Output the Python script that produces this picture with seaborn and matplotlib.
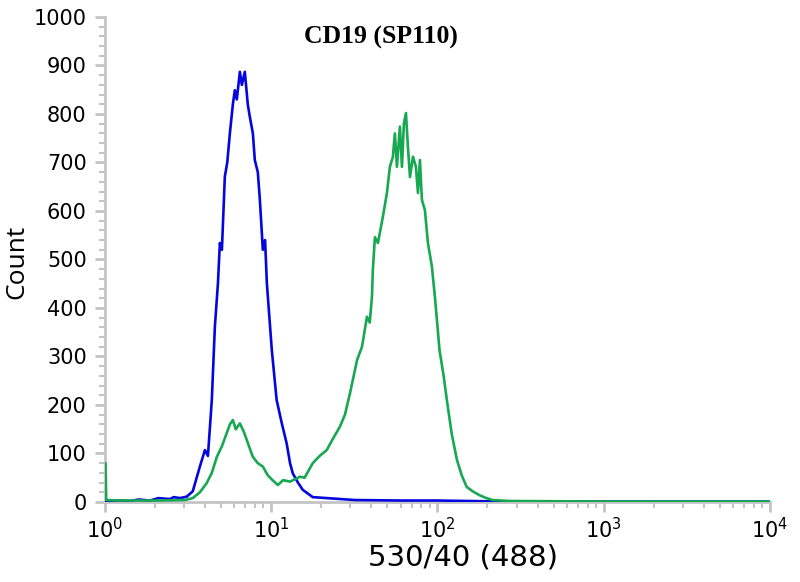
import numpy as np
import pandas as pd
import matplotlib
matplotlib.use('Agg')
import matplotlib.pyplot as plt
from matplotlib.ticker import FixedLocator, LogLocator, NullFormatter
import seaborn as sns

# histogram traces (fluorescence channel, count)
blue_x = [1.0, 1.2, 1.41, 1.6, 1.87, 2.1, 2.46, 2.6, 2.83, 3.11, 3.38, 3.73, 4.00, 4.17, 4.40,
          4.59, 4.79, 4.92, 5.06, 5.27, 5.45, 5.65, 5.89, 6.05, 6.22, 6.49, 6.67, 6.95, 7.24,
          7.45, 7.77, 7.98, 8.32, 8.56, 8.92, 9.2, 9.43, 10.1, 10.8, 11.6, 12.4, 13.0, 13.5,
          14.5, 15.5, 17.8, 21.6, 31.9, 59.5, 100, 238, 10000]
blue_y = [0, 3, 2, 5, 3, 8, 6, 10, 8, 11, 22, 73, 107, 95, 210,
          361, 451, 534, 520, 671, 700, 760, 820, 849, 830, 887, 860, 887, 820,
          794, 760, 705, 680, 623, 520, 540, 451, 313, 210, 162, 121, 80, 59,
          40, 25, 10, 8, 4, 3, 3, 1, 1]

green_x = [1.01, 1.02, 1.23, 2.14, 3.03, 3.38, 3.73, 4.10, 4.40, 4.72, 5.06, 5.41, 5.65, 5.89,
           6.13, 6.49, 6.85, 7.14, 7.45, 7.77, 8.32, 8.92, 9.55, 10.2, 10.98, 11.8, 13.0, 14.9,
           15.9, 17.8, 19.6, 21.6, 23.5, 25.9, 27.8, 29.8, 32.9, 35.2, 37.7, 39.2, 40.4, 40.9,
           42.1, 43.9, 47.0, 49.7, 51.8, 54.0, 55.5, 57.1, 59.5, 61.2, 62.9, 64.7, 66.5, 68.4,
           71.3, 74.3, 76.4, 78.5, 80.7, 84.1, 87.7, 92.7, 96.6, 103, 109, 114, 122, 131,
           140, 150, 163, 179, 197, 215, 273, 944, 10000]
green_y = [80, 4, 3, 3, 4, 8, 20, 39, 60, 93, 115, 142, 160, 169,
           150, 162, 145, 128, 110, 93, 80, 73, 55, 45, 35, 45, 42, 52,
           50, 80, 95, 107, 130, 155, 180, 224, 293, 320, 382, 370, 423, 478,
           546, 534, 588, 637, 691, 712, 760, 691, 774, 691, 781, 802, 732, 670,
           712, 691, 637, 705, 623, 602, 534, 485, 423, 313, 260, 210, 140, 87,
           55, 31, 22, 14, 8, 4, 2, 1, 1]

y_ticks = [0, 100, 200, 300, 400, 500, 600, 700, 800, 900, 1000]
x_ticks = [1, 10, 100, 1000, 10000]
x_tick_labels = ['10$^{0}$', '10$^{1}$', '10$^{2}$', '10$^{3}$', '10$^{4}$']

sns.set_style('white')
plt.rcParams['font.family'] = ['DejaVu Sans']
plt.rcParams['mathtext.default'] = 'regular'

fig = plt.figure(figsize=(8, 5.82), dpi=100)
ax = fig.add_axes([0.131, 0.1375, 0.8315, 0.8333])

sns.lineplot(x=blue_x, y=blue_y, color='#0505e0', linewidth=1.9, ax=ax, estimator=None,
             sort=False, zorder=3)
sns.lineplot(x=green_x, y=green_y, color='#17a852', linewidth=1.9, ax=ax, estimator=None,
             sort=False, zorder=4)

ax.set_xscale('log')
ax.set_xlim(1, 10000)
ax.set_ylim(0, 1000)

grey = '#c4c4c4'
for side in ['top', 'right']:
    ax.spines[side].set_visible(False)
for side in ['left', 'bottom']:
    ax.spines[side].set_color(grey)
    ax.spines[side].set_linewidth(2)

ax.set_yticks(y_ticks)
ax.yaxis.set_minor_locator(FixedLocator(np.arange(0, 1001, 20)))
ax.xaxis.set_major_locator(FixedLocator(x_ticks))
ax.set_xticklabels(x_tick_labels)
ax.xaxis.set_minor_locator(LogLocator(base=10, subs=np.arange(2, 10)))
ax.xaxis.set_minor_formatter(NullFormatter())

ax.tick_params(axis='both', which='major', direction='out', color=grey, width=2,
               length=7, labelsize=15, labelcolor='black', pad=4, left=True, bottom=True)
ax.tick_params(axis='y', which='major', pad=6)
ax.tick_params(axis='both', which='minor', direction='out', color=grey, width=1.5,
               length=4, left=True, bottom=True)

ax.set_ylabel('Count', fontsize=19, family=['Open Sans', 'DejaVu Sans'], color='black')
ax.yaxis.set_label_coords(-0.113, 0.495)
ax.set_xlabel('530/40 (488)', fontsize=21, color='black')
ax.xaxis.set_label_coords(0.538, -0.085)

ax.text(0.415, 0.957, 'CD19 (SP110)', transform=ax.transAxes, ha='center', va='center',
        fontsize=18.5, fontweight='bold', color='black',
        family=['Liberation Serif', 'DejaVu Serif'])

fig.savefig('out.png', dpi=100)
